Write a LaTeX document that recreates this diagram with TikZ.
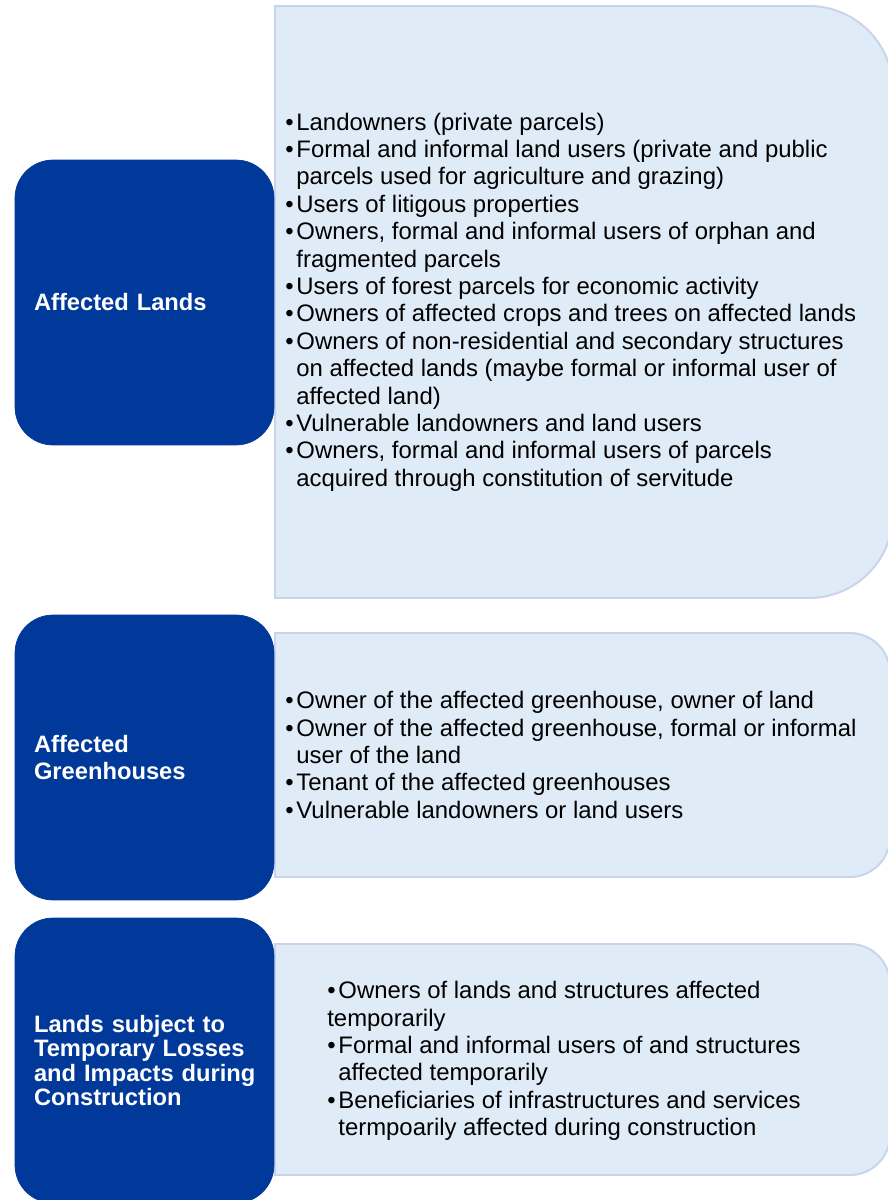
\documentclass[tikz,border=0pt]{standalone}
\usepackage{fontspec}
\setmainfont{Liberation Sans}
\usetikzlibrary{positioning}

\definecolor{groupblue}{RGB}{0,57,153}
\definecolor{panelfill}{RGB}{223,235,247}
\definecolor{paneledge}{RGB}{202,211,236}

% bullet with a fixed box, and the matching indent for wrapped lines
\newcommand{\bul}{\makebox[6.3pt][l]{\textbullet}}
\newcommand{\hang}{\hspace*{6.3pt}}

\begin{document}
\begin{tikzpicture}[
                    x=0.02cm, y=0.02cm,
                    group/.style={fill=groupblue, draw=groupblue, line width=0.4pt,
                        rounded corners=0.76cm, minimum width=5.18cm, minimum height=5.7cm,
                        text width=4.42cm, inner xsep=0.38cm, align=left, text=white,
                        font=\bfseries\fontsize{13.5}{15.3}\selectfont},
                    panel/.style={fill=panelfill, draw=paneledge, line width=1.1pt},
                    items/.style={anchor=west, align=left, inner sep=0pt,
                        font=\fontsize{13.6}{15.6}\selectfont},
                ]
                    \useasboundingbox (0,0) rectangle (888,-1200);

                    % light panels, square on the left and round on the right
                    \draw[panel] (275,-6) -- (809,-6) arc[start angle=90, end angle=0, radius=1.68cm]
                        -- (893,-514) arc[start angle=0, end angle=-90, radius=1.68cm] -- (275,-598) -- cycle;
                    \draw[panel] (275,-633) -- (850,-633) arc[start angle=90, end angle=0, radius=0.8cm]
                        -- (890,-837) arc[start angle=0, end angle=-90, radius=0.8cm] -- (275,-877) -- cycle;
                    \draw[panel] (275,-944) -- (850,-944) arc[start angle=90, end angle=0, radius=0.8cm]
                        -- (890,-1135) arc[start angle=0, end angle=-90, radius=0.8cm] -- (275,-1175) -- cycle;

                    % dark group boxes
                    \node[group] (lands) at (144.5,-302.5) {Affected Lands};
                    \node[group] (greenhouses) at (144.5,-757.5) {Affected\\Greenhouses};
                    \node[group, font=\bfseries\fontsize{13.5}{14}\selectfont] (temporary) at (144.5,-1060.5)
                        {Lands subject to\\Temporary Losses\\\mbox{and Impacts during}\\Construction};

                    % bullet lists
                    \node[items] (landsitems) at (285,-302) {%
                        \bul Landowners (private parcels)\\
                        \bul Formal and informal land users (private and public\\
                        \hang parcels used for agriculture and grazing)\\
                        \bul Users of litigous properties\\
                        \bul Owners, formal and informal users of orphan and\\
                        \hang fragmented parcels\\
                        \bul Users of forest parcels for economic activity\\
                        \bul Owners of affected crops and trees on affected lands\\
                        \bul Owners of non-residential and secondary structures\\
                        \hang on affected lands (maybe formal or informal user of\\
                        \hang affected land)\\
                        \bul Vulnerable landowners and land users\\
                        \bul Owners, formal and informal users of parcels\\
                        \hang acquired through constitution of servitude};

                    \node[items] (greenitems) at (285,-755) {%
                        \bul Owner of the affected greenhouse, owner of land\\
                        \bul Owner of the affected greenhouse, formal or informal\\
                        \hang user of the land\\
                        \bul Tenant of the affected greenhouses\\
                        \bul Vulnerable landowners or land users};

                    \node[items] (tempitems) at (327,-1061) {%
                        \bul Owners of lands and structures affected\\
                        temporarily\\
                        \bul Formal and informal users of and structures\\
                        \hang affected temporarily\\
                        \bul Beneficiaries of infrastructures and services\\
                        \hang termpoarily affected during construction};
                \end{tikzpicture}
\end{document}
